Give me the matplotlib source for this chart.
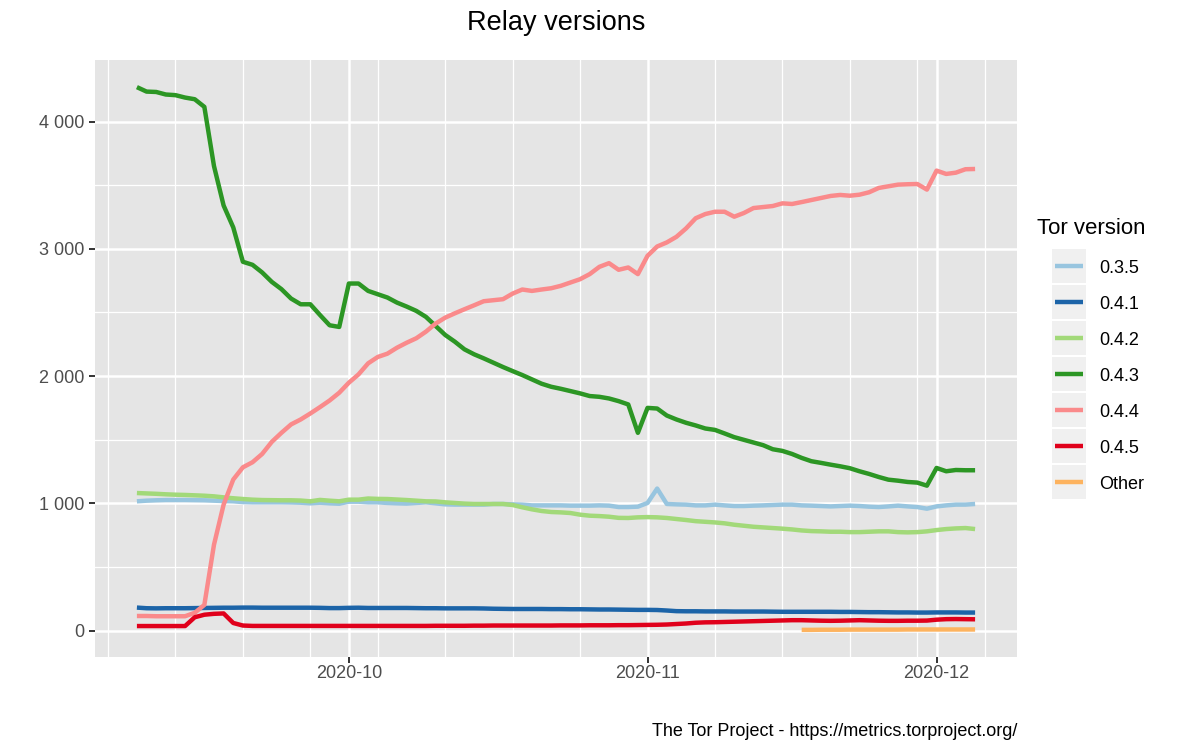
import numpy as np
import pandas as pd
import matplotlib
matplotlib.use("Agg")
import matplotlib.pyplot as plt
import matplotlib.dates as mdates
from matplotlib.ticker import FuncFormatter, MultipleLocator
from matplotlib.lines import Line2D
from matplotlib.patches import Rectangle

plt.rcParams['font.family'] = ['Liberation Sans', 'DejaVu Sans']

# ---------------- data ----------------
dates = pd.date_range("2020-09-09", "2020-12-05", freq="D")

v035 = [1016, 1021, 1024, 1026, 1026, 1026, 1025, 1024, 1021, 1018,
        1016, 1010, 1008, 1008, 1008, 1008, 1007, 1005, 1000, 1005,
        1000, 997, 1013, 1013, 1008, 1008, 1003, 1000, 998, 1003,
        1008, 1000, 992, 990, 990, 990, 990, 995, 995, 992,
        990, 984, 984, 984, 984, 982, 982, 982, 984, 982,
        971, 971, 974, 1003, 1116, 995, 992, 990, 984, 984,
        990, 984, 979, 979, 982, 984, 987, 990, 990, 984,
        982, 979, 976, 979, 982, 979, 974, 971, 976, 982,
        976, 971, 958, 976, 984, 990, 990, 995]

v041 = [181, 176, 175, 176, 176, 176, 177, 178, 179, 180,
        180, 181, 181, 180, 180, 180, 180, 180, 180, 179,
        177, 177, 179, 180, 178, 178, 178, 178, 178, 177,
        176, 176, 175, 175, 175, 175, 174, 172, 171, 170,
        170, 170, 170, 169, 169, 168, 168, 167, 166, 166,
        165, 164, 163, 163, 162, 158, 153, 152, 152, 151,
        151, 151, 150, 150, 150, 150, 149, 148, 148, 148,
        148, 148, 148, 147, 147, 146, 145, 145, 144, 143,
        143, 142, 142, 143, 143, 143, 142, 142]

v042 = [1081, 1078, 1075, 1071, 1068, 1066, 1063, 1060, 1055, 1047,
        1040, 1034, 1029, 1026, 1025, 1024, 1024, 1022, 1016, 1027,
        1021, 1016, 1029, 1029, 1038, 1035, 1034, 1030, 1026, 1021,
        1016, 1015, 1008, 1003, 998, 995, 995, 995, 995, 987,
        969, 953, 940, 932, 929, 924, 911, 903, 900, 895,
        886, 885, 890, 892, 890, 885, 877, 869, 860, 855,
        850, 843, 832, 824, 816, 811, 806, 801, 795, 787,
        782, 780, 777, 777, 774, 774, 777, 780, 780, 774,
        772, 774, 780, 790, 798, 803, 806, 798]

v043 = [4270, 4235, 4232, 4212, 4207, 4188, 4175, 4115, 3650, 3340,
        3168, 2898, 2874, 2814, 2740, 2683, 2609, 2564, 2564, 2480,
        2399, 2386, 2727, 2727, 2669, 2643, 2617, 2577, 2546, 2512,
        2465, 2394, 2323, 2270, 2210, 2171, 2139, 2105, 2071, 2039,
        2008, 1974, 1940, 1916, 1900, 1882, 1864, 1843, 1837, 1824,
        1803, 1777, 1554, 1750, 1745, 1690, 1659, 1633, 1612, 1588,
        1577, 1549, 1520, 1499, 1478, 1457, 1425, 1412, 1388, 1357,
        1331, 1318, 1304, 1291, 1276, 1252, 1231, 1207, 1186, 1178,
        1168, 1163, 1139, 1278, 1252, 1262, 1260, 1260]

v044 = [115, 115, 113, 113, 113, 113, 140, 202, 675, 990,
        1187, 1283, 1323, 1388, 1483, 1554, 1620, 1659, 1706, 1756,
        1808, 1869, 1948, 2013, 2100, 2150, 2176, 2223, 2262, 2297,
        2349, 2412, 2459, 2493, 2525, 2556, 2588, 2596, 2604, 2648,
        2680, 2669, 2680, 2690, 2709, 2735, 2761, 2801, 2858, 2887,
        2835, 2853, 2801, 2945, 3018, 3050, 3094, 3160, 3240, 3273,
        3291, 3291, 3252, 3281, 3320, 3328, 3336, 3357, 3352, 3367,
        3383, 3399, 3415, 3423, 3417, 3425, 3444, 3478, 3491, 3504,
        3507, 3509, 3465, 3614, 3588, 3598, 3625, 3627]

v045 = [36, 36, 36, 36, 36, 36, 105, 125, 132, 135,
        60, 40, 37, 37, 37, 37, 37, 37, 37, 37,
        37, 37, 37, 37, 37, 37, 37, 37, 37, 37,
        37, 38, 38, 38, 38, 39, 39, 40, 40, 40,
        40, 40, 40, 40, 41, 41, 41, 42, 42, 42,
        43, 43, 44, 45, 46, 48, 52, 56, 62, 65,
        66, 68, 70, 72, 74, 76, 78, 80, 82, 82,
        80, 78, 77, 78, 80, 82, 80, 78, 77, 77,
        78, 78, 79, 86, 90, 91, 90, 89]

other = [np.nan] * 69 + [6, 6, 7, 7, 7, 8, 8, 8, 8, 8,
                         8, 9, 9, 9, 9, 9, 9, 9, 9]

versions = ["0.3.5", "0.4.1", "0.4.2", "0.4.3", "0.4.4", "0.4.5", "Other"]
series = [v035, v041, v042, v043, v044, v045, other]
colors = ["#98c5df", "#1c64a8", "#a2d979", "#2c9624", "#fa8a8b", "#e0001b", "#fdb35f"]

# ---------------- figure ----------------
W, H = 1200, 750
fig = plt.figure(figsize=(12, 7.5), dpi=100)
fig.patch.set_facecolor("white")

def fx(px):
    return px / W

def fy(py):
    return 1 - py / H

left, right, top, bottom = 95, 1017, 60, 657
ax = fig.add_axes([fx(left), fy(bottom), fx(right) - fx(left), fy(top) - fy(bottom)])
ax.set_facecolor("#e5e5e5")

LW = 3.2
for name, vals, col in zip(versions, series, colors):
    ax.plot(dates, np.array(vals, dtype=float), color=col, lw=LW,
            solid_joinstyle="round", solid_capstyle="butt", zorder=3)

ax.margins(x=0.05, y=0.05)

# axes / grid
ax.xaxis.set_major_locator(mdates.MonthLocator())
ax.xaxis.set_major_formatter(mdates.DateFormatter("%Y-%m"))
ax.xaxis.set_minor_locator(mdates.WeekdayLocator(byweekday=mdates.SU))
ax.yaxis.set_major_locator(MultipleLocator(1000))
ax.yaxis.set_minor_locator(MultipleLocator(500))
ax.yaxis.set_major_formatter(FuncFormatter(lambda v, p: f"{int(v):,}".replace(",", " ")))

ax.grid(which="major", color="white", lw=1.8, zorder=1)
ax.grid(which="minor", color="white", lw=0.9, zorder=1)
ax.set_axisbelow(True)
for s in ax.spines.values():
    s.set_visible(False)

ax.tick_params(which="major", length=4, width=1.4, color="#333333",
               labelsize=13, labelcolor="#4d4d4d")
ax.tick_params(axis="x", which="major", pad=1.5)
ax.tick_params(axis="y", which="major", pad=4)
ax.tick_params(which="minor", length=0)

# title & caption
fig.text(fx((left + right) / 2), fy(23), "Relay versions", ha="center", va="center",
         fontsize=19.5, color="black")
fig.text(fx(right), fy(731), "The Tor Project - https://metrics.torproject.org/",
         ha="right", va="center", fontsize=13, color="black")

# legend (ggplot style)
fig.text(fx(1037), fy(228), "Tor version", ha="left", va="center", fontsize=16, color="black")
for i, (name, col) in enumerate(zip(versions, colors)):
    ktop = 249 + 36 * i
    rect = Rectangle((fx(1052), fy(ktop + 34)), fx(34), 34 / H,
                     transform=fig.transFigure, facecolor="#f0f0f0", edgecolor="none")
    fig.add_artist(rect)
    yc = fy(ktop + 17)
    fig.add_artist(Line2D([fx(1055), fx(1083)], [yc, yc], transform=fig.transFigure,
                          color=col, lw=LW, solid_capstyle="butt"))
    fig.text(fx(1099), yc - 2.5 / H, name, ha="left", va="center", fontsize=13, color="black")

fig.savefig("out.png", dpi=100)
